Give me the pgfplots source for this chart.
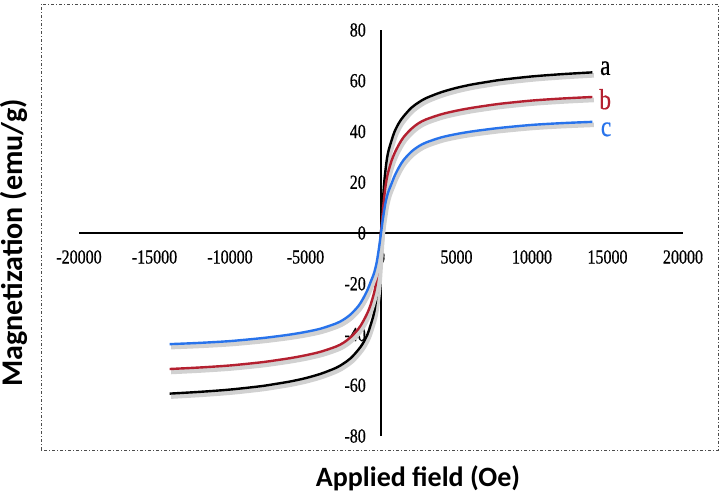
\documentclass[border=0pt]{standalone}
\usepackage{pgfplots}
\pgfplotsset{compat=1.18}
\usepackage{fontspec}
\setmainfont{Liberation Serif}
\newfontfamily\tickfont[FakeStretch=0.8,FakeBold=0.6]{Liberation Serif}
\newfontfamily\letfont[FakeStretch=0.8,FakeBold=0.5]{Liberation Serif}
\newfontfamily\labfont{Carlito}
\definecolor{cred}{RGB}{180,32,48}
\definecolor{cblue}{RGB}{40,115,235}
\begin{document}
\begin{tikzpicture}[x=1pt,y=1pt]
\useasboundingbox (0,0) rectangle (722,495);
\draw[black!70, line width=0.9pt, dash pattern=on 3pt off 2pt on 1pt off 2pt] (41,45) rectangle (718,491);
\begin{axis}[
  at={(381pt,262pt)}, anchor=origin,
  scale only axis, width=604pt, height=406pt,
  xmin=-20000, xmax=20000, ymin=-80, ymax=80,
  enlargelimits=false, clip=false,
  axis lines=middle,
  axis line style={-, line width=2pt, black},
  scaled x ticks=false, scaled y ticks=false,
  xtick={-20000,-15000,-10000,-5000,0,5000,10000,15000,20000},
  xticklabels={-20000,-15000,-10000,-5000,0,5000,10000,15000,20000},
  ytick={-80,-60,-40,-20,0,20,40,60,80},
  yticklabels={-80,-60,-40,-20,0,20,40,60,80},
  hide obscured x ticks=false, hide obscured y ticks=false,
  major tick length=0pt,
  xticklabel style={font=\tickfont\fontsize{20}{24}\selectfont, anchor=center, yshift=-24pt, inner sep=0pt},
  yticklabel style={font=\tickfont\fontsize{20}{24}\selectfont, anchor=east, xshift=-15pt, inner sep=0pt},
  every axis plot/.append style={line width=2.4pt, smooth, no markers},
]
\addplot[black, preaction={draw, color=black!18, line width=4.5pt, transform canvas={shift={(1.5pt,-3pt)}}}] coordinates {
(-14000,-63.3)(-12000,-62.6)(-10000,-61.7)(-8000,-60.4)(-7000,-59.5)(-6000,-58.5)(-5000,-57.2)(-4000,-55.5)(-3000,-53.2)(-2500,-51.5)(-2000,-49.3)(-1500,-46)(-1200,-43.5)(-900,-40)(-700,-36.5)(-500,-32.5)(-400,-29.5)(-300,-25)(-200,-19)(-100,-10)
(0,0)(100,10)(200,19)(300,25)(400,29.5)(500,32.5)(700,36.5)(900,40)(1200,43.5)(1500,46)(2000,49.3)(2500,51.5)(3000,53.2)(4000,55.5)(5000,57.2)(6000,58.5)(7000,59.5)(8000,60.4)(10000,61.7)(12000,62.6)(14000,63.3)};
\addplot[cred, preaction={draw, color=black!18, line width=4.5pt, transform canvas={shift={(1.5pt,-3pt)}}}] coordinates {
(-14000,-53.6)(-12000,-53)(-10000,-52.2)(-8000,-51)(-7000,-50.2)(-6000,-49.3)(-5000,-48.2)(-4000,-46.8)(-3000,-44.8)(-2500,-43.3)(-2000,-41)(-1500,-37.8)(-1200,-35)(-900,-31.5)(-700,-28.5)(-500,-24.5)(-400,-22)(-300,-18.5)(-200,-13.5)(-100,-7)
(0,0)(100,7)(200,13.5)(300,18.5)(400,22)(500,24.5)(700,28.5)(900,31.5)(1200,35)(1500,37.8)(2000,41)(2500,43.3)(3000,44.8)(4000,46.8)(5000,48.2)(6000,49.3)(7000,50.2)(8000,51)(10000,52.2)(12000,53)(14000,53.6)};
\addplot[cblue, preaction={draw, color=black!18, line width=4.5pt, transform canvas={shift={(1.5pt,-3pt)}}}] coordinates {
(-14000,-43.8)(-12000,-43.3)(-10000,-42.6)(-8000,-41.5)(-7000,-40.8)(-6000,-40)(-5000,-39)(-4000,-37.7)(-3000,-35.7)(-2500,-34.2)(-2000,-32)(-1500,-28.8)(-1200,-26)(-900,-22.5)(-700,-19.5)(-500,-16.5)(-400,-14.5)(-300,-12)(-200,-8.5)(-100,-4.5)
(0,0)(100,4.5)(200,8.5)(300,12)(400,14.5)(500,16.5)(700,19.5)(900,22.5)(1200,26)(1500,28.8)(2000,32)(2500,34.2)(3000,35.7)(4000,37.7)(5000,39)(6000,40)(7000,40.8)(8000,41.5)(10000,42.6)(12000,43.3)(14000,43.8)};
\node[anchor=base west, inner sep=0pt, font=\letfont\fontsize{29}{30}\selectfont, black] at (axis cs:14500,62.3) {a};
\node[anchor=base west, inner sep=0pt, font=\letfont\fontsize{29}{30}\selectfont, cred] at (axis cs:14450,48.8) {b};
\node[anchor=base west, inner sep=0pt, font=\letfont\fontsize{29}{30}\selectfont, cblue] at (axis cs:14550,38.2) {c};
\end{axis}
\node[anchor=base, rotate=90, inner sep=0pt, font=\labfont\bfseries\fontsize{30}{32}\selectfont] at (22,252) {Magnetization (emu/g)};
\node[anchor=base, inner sep=0pt, font=\labfont\bfseries\fontsize{28}{30}\selectfont] at (418,9) {Applied field (Oe)};
\end{tikzpicture}
\end{document}
